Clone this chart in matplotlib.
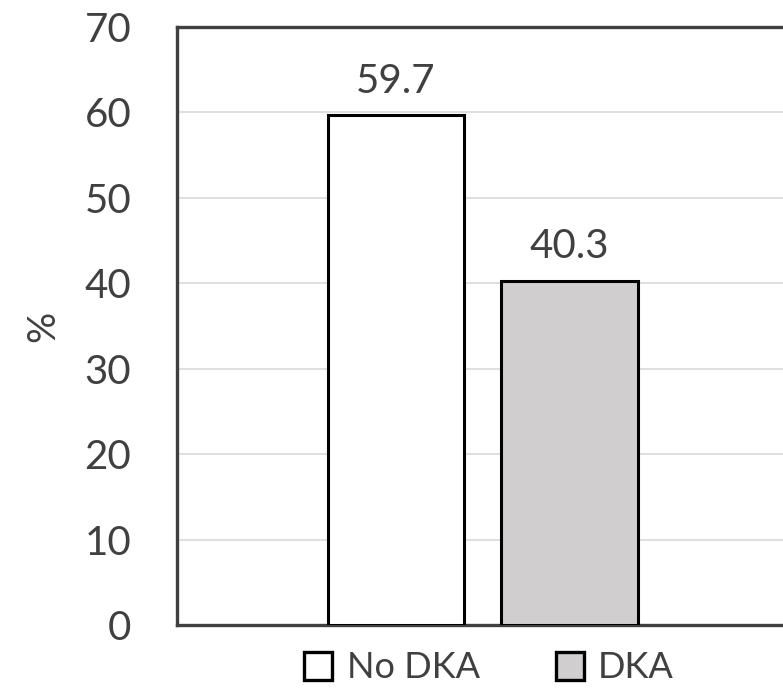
import matplotlib.pyplot as plt
from matplotlib.patches import Patch

# Data
groups = ["No DKA", "DKA"]
percent = [59.7, 40.3]
colors = ["#ffffff", "#d0cece"]
yticks = [0, 10, 20, 30, 40, 50, 60, 70]

text_c = "#404040"
plt.rcParams["font.family"] = ["Lato", "DejaVu Sans"]

fig = plt.figure(figsize=(7.83, 6.94), dpi=100)
ax = fig.add_axes([177 / 783, 69 / 694, 612 / 783, 598 / 694])

xpos = list(range(len(groups)))
bars = ax.bar(xpos, percent, width=0.784, color=colors,
              edgecolor="black", linewidth=2.2, zorder=3)

for b, v in zip(bars, percent):
    ax.annotate(f"{v:.1f}", (b.get_x() + b.get_width() / 2, v),
                xytext=(0, 11), textcoords="offset points",
                ha="center", va="bottom", fontsize=29, color=text_c)

ax.set_xlim(-1.262, 2.265)
ax.set_ylim(0, 70)
ax.set_yticks(yticks)
ax.set_xticks([])
ax.yaxis.grid(True, color="#d9d9d9", linewidth=1.2, zorder=0)
ax.tick_params(axis="y", length=0, pad=33, labelsize=29, labelcolor=text_c)
for s in ax.spines.values():
    s.set_color(text_c)
    s.set_linewidth(2.4)

ax.set_ylabel("%", fontsize=28, color=text_c, labelpad=17)

handles = [Patch(facecolor=c, edgecolor="black", linewidth=2.4) for c in colors]
fig.legend(handles, groups, loc="center", bbox_to_anchor=(489 / 783, 1 - 668 / 694),
           ncol=2, frameon=False, fontsize=26, labelcolor=text_c,
           handlelength=0.78, handleheight=0.78, handletextpad=0.4,
           columnspacing=2.1)

fig.savefig("out.png", dpi=100)
